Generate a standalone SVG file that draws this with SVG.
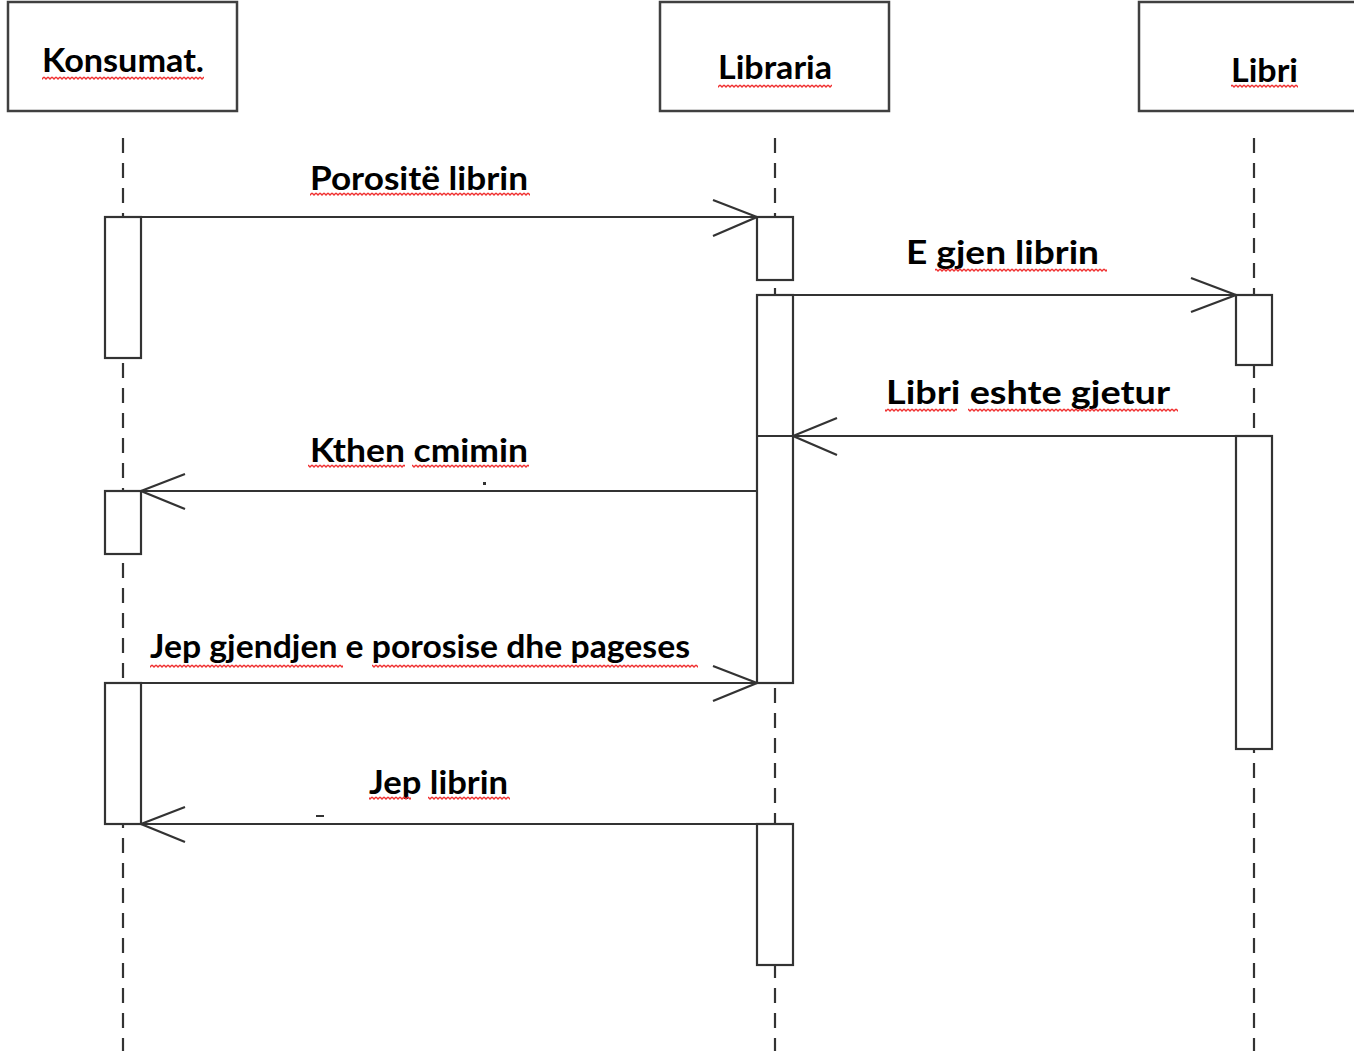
<svg xmlns="http://www.w3.org/2000/svg" width="1354" height="1051" viewBox="0 0 1354 1051">
<style>
.hdr{fill:#fff;stroke:#404040;stroke-width:2.5}
.act{fill:#fff;stroke:#333;stroke-width:2.2}
.life{stroke:#333;stroke-width:2.2;stroke-dasharray:15 10;fill:none}
.msg{stroke:#333;stroke-width:2.2;fill:none}
.lbl{font-family:Lato,"Liberation Sans",sans-serif;font-weight:bold;font-size:32px;fill:#000}
.sq{fill:url(#squig)}
</style>
<defs>
<pattern id="squig" patternUnits="userSpaceOnUse" width="4" height="4">
<path d="M0,1 L2,3 L4,1" fill="none" stroke="#f03030" stroke-width="1.4"/>
</pattern>
</defs>
<rect width="1354" height="1051" fill="#fff"/>
<g id="lifelines">
<line class="life" x1="123" y1="138" x2="123" y2="1051"/>
<line class="life" x1="775" y1="138" x2="775" y2="1051"/>
<line class="life" x1="1254" y1="138" x2="1254" y2="1051"/>
</g>
<g id="konsumat">
<rect class="hdr" x="8" y="2" width="229" height="109"/>
<text class="lbl" x="42" y="72" textLength="162" lengthAdjust="spacingAndGlyphs">Konsumat.</text>
<rect class="sq" x="42" y="76" width="162" height="4"/>
</g>
<g id="libraria">
<rect class="hdr" x="660" y="2" width="229" height="109"/>
<text class="lbl" x="718" y="79" textLength="114" lengthAdjust="spacingAndGlyphs">Libraria</text>
<rect class="sq" x="718" y="84" width="114" height="4"/>
</g>
<g id="libri">
<rect class="hdr" x="1139" y="2" width="230" height="109"/>
<text class="lbl" x="1231" y="82" textLength="67" lengthAdjust="spacingAndGlyphs">Libri</text>
<rect class="sq" x="1231" y="84" width="67" height="4"/>
</g>
<g id="activations">
<rect class="act" x="105" y="217" width="36" height="141"/>
<rect class="act" x="105" y="491" width="36" height="63"/>
<rect class="act" x="105" y="683" width="36" height="141"/>
<rect class="act" x="757" y="217" width="36" height="63"/>
<rect class="act" x="757" y="295" width="36" height="388"/>
<rect class="act" x="757" y="824" width="36" height="141"/>
<rect class="act" x="1236" y="295" width="36" height="70"/>
<rect class="act" x="1236" y="436" width="36" height="313"/>
</g>
<g id="connectors">
<path class="msg" d="M141,217 H757 M713,200 L757,217 L713,236"/>
<path class="msg" d="M793,295 H1236 M1191,278 L1236,295 L1191,312"/>
<path class="msg" d="M1236,436 H757 M837,418 L793,436 L837,455"/>
<path class="msg" d="M757,491 H141 M185,474 L141,491 L185,509"/>
<path class="msg" d="M141,683 H757 M713,666 L757,683 L713,701"/>
<path class="msg" d="M757,824 H141 M185,807 L141,824 L185,842"/>
<rect x="483" y="482" width="3" height="3" fill="#333"/>
<rect x="316" y="815" width="8" height="2" fill="#333"/>
</g>
<g id="labels">
<text class="lbl" x="310" y="190" textLength="218" lengthAdjust="spacingAndGlyphs">Porositë librin</text>
<rect class="sq" x="310" y="192" width="220" height="4"/>
<text class="lbl" x="906" y="264" textLength="193" lengthAdjust="spacingAndGlyphs">E gjen librin</text>
<rect class="sq" x="935" y="268" width="172" height="4"/>
<text class="lbl" x="886" y="404" textLength="284" lengthAdjust="spacingAndGlyphs">Libri eshte gjetur</text>
<rect class="sq" x="885" y="408" width="72" height="4"/>
<rect class="sq" x="968" y="408" width="210" height="4"/>
<text class="lbl" x="310" y="462" textLength="218" lengthAdjust="spacingAndGlyphs">Kthen cmimin</text>
<rect class="sq" x="308" y="464" width="97" height="4"/>
<rect class="sq" x="412" y="464" width="117" height="4"/>
<text class="lbl" x="150" y="658" textLength="540" lengthAdjust="spacingAndGlyphs">Jep gjendjen e porosise dhe pageses</text>
<rect class="sq" x="150" y="664" width="193" height="4"/>
<rect class="sq" x="372" y="664" width="326" height="4"/>
<text class="lbl" x="369" y="794" textLength="139" lengthAdjust="spacingAndGlyphs">Jep librin</text>
<rect class="sq" x="369" y="796" width="42" height="4"/>
<rect class="sq" x="428" y="796" width="82" height="4"/>
</g>
</svg>
